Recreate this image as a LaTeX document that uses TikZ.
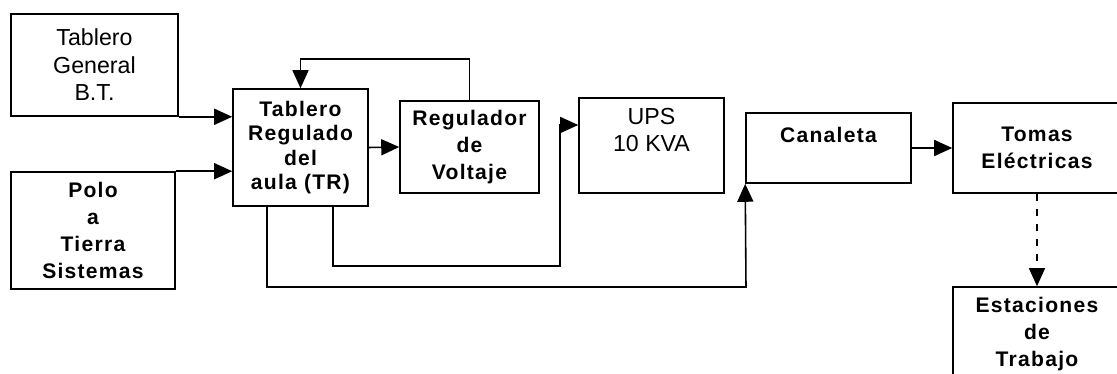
\documentclass[tikz,border=0pt]{standalone}
\usepackage{fontspec}
\setmainfont{Liberation Sans}
\newfontfamily\spaced[LetterSpace=6]{Liberation Sans}
\usetikzlibrary{arrows.meta}
\def\bsp{\spaced\bfseries\fontsize{12}{15.3}\selectfont}
\def\rg{\fontsize{13.2}{15.6}\selectfont}

\begin{document}
\begin{tikzpicture}[x=0.02cm, y=-0.02cm,
	box/.style={draw, line width=0.9pt, align=center, inner sep=0pt},
	arr/.style={line width=0.9pt, -{Triangle[length=0.36cm, width=0.32cm]}}]
	\useasboundingbox (0,0) rectangle (1117,374);
	\node[box, minimum width=3.34cm, minimum height=2.04cm, font=\rg] (tgen) at (94.5,65) {Tablero\\General\\B.T.};
	\node[box, minimum width=3.28cm, minimum height=2.34cm, font=\bsp] (polo) at (93,230.5) {Polo\\a\\Tierra\\Sistemas};
	\node[box, minimum width=2.70cm, minimum height=2.34cm, font=\bsp] (tr) at (300.5,147.5) {Tablero\\[-1.5pt]Regulado\\[-1.5pt]del\\[-1.5pt]aula (TR)};
	\node[box, minimum width=2.78cm, minimum height=1.84cm, font=\bsp] (reg) at (469.5,147) {Regulador\\de\\Voltaje};
	\node[box, minimum width=2.90cm, minimum height=1.90cm, font=\rg] (ups) at (651.5,145.5) {UPS\\10 KVA\\[2pt]\mbox{}};
	\node[box, minimum width=3.30cm, minimum height=1.40cm, font=\bsp] (can) at (828.5,148) {Canaleta\\\mbox{}};
	\node[box, minimum width=3.36cm, minimum height=1.80cm, font=\bsp] (tomas) at (1037,148) {Tomas\\Eléctricas};
	\node[box, minimum width=3.36cm, minimum height=1.88cm, font=\bsp] (est) at (1037,334) {Estaciones\\de\\Trabajo};
	\draw[arr] (tgen.south east) -- (tgen.south east -| tr.west);
	\draw[arr] (polo.north east) -- (polo.north east -| tr.west);
	\draw[arr] (tr.east) -- (reg.west);
	\draw[arr] (reg.north) -- ++(0,-41) -| (tr.north);
	\draw[arr] ([xshift=0.65cm]tr.south) |- (560,266) |- ([yshift=0.41cm]ups.west);
	\coordinate (cfoot) at (746,287);
	\draw[arr] ([xshift=-0.67cm]tr.south) |- (cfoot) -- (can.south west);
	\draw[arr] (can.east) -- (can.east -| tomas.west);
	\draw[arr, line width=0.7pt, dash pattern=on 0.14cm off 0.16cm] (tomas.south) -- (est.north);
\end{tikzpicture}
\end{document}
